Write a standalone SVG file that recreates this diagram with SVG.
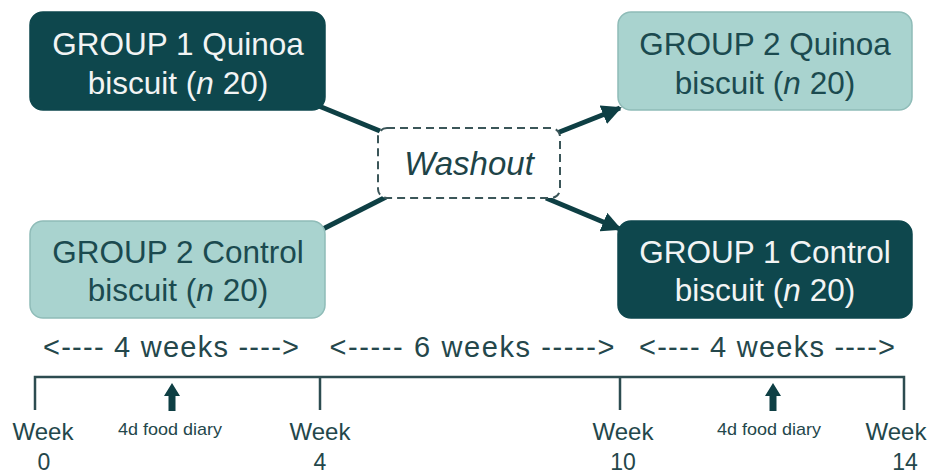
<svg xmlns="http://www.w3.org/2000/svg" width="930" height="474" viewBox="0 0 930 474">
<style>
.dark{fill:#0e474d;stroke:#0e474d;stroke-width:1.5}
.light{fill:#a9d3cf;stroke:#8fbcb8;stroke-width:1.5}
.bt{font-family:"Liberation Sans",Arial,sans-serif;font-size:31.5px;text-anchor:middle}
.wt{fill:#f2f4f4}
.lt{fill:#1b4a4f}
.conn{stroke:#0e3f44;stroke-width:5;fill:none;stroke-linecap:butt}
.tl{stroke:#2d4c50;stroke-width:2.5;fill:none}
.lab{font-family:"Liberation Sans",Arial,sans-serif;fill:#24474b;text-anchor:middle}
.wk{font-family:"Liberation Sans",Arial,sans-serif;fill:#24474b;text-anchor:middle;font-size:29px}
</style>
<defs>
<marker id="ah" viewBox="0 0 10 10" refX="9" refY="5" markerWidth="4" markerHeight="4" orient="auto" markerUnits="strokeWidth">
<path d="M0,0 L10,5 L0,10 z" fill="#0e3f44"/>
</marker>
</defs>
<rect width="930" height="474" fill="#ffffff"/>
<g id="connectors">
<line class="conn" x1="314" y1="104" x2="380" y2="131"/>
<line class="conn" x1="557" y1="133" x2="620" y2="108" marker-end="url(#ah)"/>
<line class="conn" x1="315" y1="233" x2="386" y2="197"/>
<line class="conn" x1="546" y1="198" x2="620" y2="229" marker-end="url(#ah)"/>
</g>
<g id="g1quinoa">
<rect class="dark" x="30" y="12" width="295" height="98" rx="13"/>
<text class="bt wt" x="178" y="55">GROUP 1 Quinoa</text>
<text class="bt wt" x="178" y="94">biscuit (<tspan font-style="italic">n</tspan> 20)</text>
</g>
<g id="g2quinoa">
<rect class="light" x="618" y="12" width="294" height="98" rx="13"/>
<text class="bt lt" x="765" y="55">GROUP 2 Quinoa</text>
<text class="bt lt" x="765" y="94">biscuit (<tspan font-style="italic">n</tspan> 20)</text>
</g>
<g id="g2control">
<rect class="light" x="30" y="221" width="295" height="97" rx="13"/>
<text class="bt lt" x="178" y="263">GROUP 2 Control</text>
<text class="bt lt" x="178" y="301">biscuit (<tspan font-style="italic">n</tspan> 20)</text>
</g>
<g id="g1control">
<rect class="dark" x="618" y="221" width="294" height="97" rx="13"/>
<text class="bt wt" x="765" y="263">GROUP 1 Control</text>
<text class="bt wt" x="765" y="301">biscuit (<tspan font-style="italic">n</tspan> 20)</text>
</g>
<g id="washout">
<rect x="378" y="128" width="182" height="70" rx="9" fill="#ffffff" stroke="#3b5659" stroke-width="2" stroke-dasharray="8 5"/>
<text x="469" y="175" font-family="'Liberation Sans',Arial,sans-serif" font-size="33" font-style="italic" fill="#1e4448" text-anchor="middle">Washout</text>
</g>
<g id="timeline">
<text class="wk" x="171" y="357" textLength="256" lengthAdjust="spacing">&lt;---- 4 weeks ----&gt;</text>
<text class="wk" x="472" y="357" textLength="285" lengthAdjust="spacing">&lt;----- 6 weeks -----&gt;</text>
<text class="wk" x="767" y="357" textLength="256" lengthAdjust="spacing">&lt;---- 4 weeks ----&gt;</text>
<path class="tl" d="M35,410 V377 H904 V410 M320,377 V410 M620,377 V410"/>
<path d="M172,383 L180,396 L175.5,396 L175.5,411 L168.5,411 L168.5,396 L164,396 Z" fill="#0e3f44"/>
<path d="M773,383 L781,396 L776.5,396 L776.5,411 L769.5,411 L769.5,396 L765,396 Z" fill="#0e3f44"/>
<text class="lab" x="170" y="435" font-size="17" textLength="104" lengthAdjust="spacingAndGlyphs">4d food diary</text>
<text class="lab" x="769" y="435" font-size="17" textLength="104" lengthAdjust="spacingAndGlyphs">4d food diary</text>
<text class="lab" x="43" y="440" font-size="24">Week</text>
<text class="lab" x="44" y="470" font-size="23">0</text>
<text class="lab" x="320" y="440" font-size="24">Week</text>
<text class="lab" x="320" y="470" font-size="23">4</text>
<text class="lab" x="623" y="440" font-size="24">Week</text>
<text class="lab" x="623" y="470" font-size="23">10</text>
<text class="lab" x="896" y="440" font-size="24">Week</text>
<text class="lab" x="905" y="470" font-size="23">14</text>
</g>
</svg>
